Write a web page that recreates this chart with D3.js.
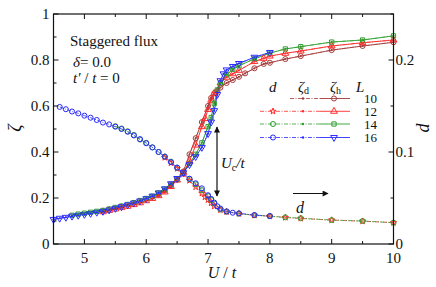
<!DOCTYPE html>
<html><head><meta charset="utf-8">
<script src="https://cdn.jsdelivr.net/npm/d3@7"></script>
<style>body{margin:0;background:#fff}svg{display:block}</style>
</head><body><svg id="c" width="436" height="287"></svg>
<script>
// ---- data ----
const xTicks = [5,6,7,8,9,10];
const yLeftTicks = [0,0.2,0.4,0.6,0.8,1];
const yLeftLabels = ["0","0.2","0.4","0.6","0.8","1"];
const yRightTicks = [0,0.1,0.2];
const yRightLabels = ["0","0.1","0.2"];
const sizesL = [10,12,14,16];

// zeta_h (left axis)
const uH16 = [4.5,4.6,4.7,4.8,4.9,5.0,5.1,5.2,5.3,5.4,5.5,5.6,5.7,5.8,5.9,6.0,6.1,6.2,6.3,6.4,6.5,6.6,6.7,6.8,6.9,7.0,7.05,7.1,7.15,7.2,7.25,7.3,7.4,7.5,7.75,8.0];
const zH16 = [0.107,0.112,0.116,0.121,0.125,0.129,0.133,0.138,0.142,0.148,0.155,0.162,0.170,0.178,0.187,0.197,0.208,0.222,0.240,0.262,0.285,0.31,0.345,0.38,0.42,0.48,0.53,0.58,0.65,0.71,0.74,0.757,0.772,0.785,0.812,0.833];
const uH14 = [4.8,4.9,5.0,5.1,5.2,5.3,5.4,5.5,5.6,5.7,5.8,5.9,6.0,6.1,6.2,6.3,6.4,6.5,6.6,6.7,6.8,6.9,7.0,7.05,7.1,7.15,7.2,7.3,7.4,7.5,7.75,8.0,8.25,8.5,9.0,9.5,10];
const zH14 = [0.125,0.130,0.134,0.138,0.142,0.146,0.152,0.159,0.165,0.172,0.180,0.189,0.198,0.208,0.222,0.238,0.26,0.283,0.31,0.35,0.39,0.44,0.51,0.55,0.61,0.67,0.70,0.735,0.76,0.775,0.805,0.83,0.848,0.858,0.878,0.887,0.905];
const uH12 = [5.3,5.4,5.5,5.6,5.7,5.8,5.9,6.0,6.1,6.2,6.3,6.4,6.5,6.6,6.7,6.8,6.9,6.95,7.0,7.05,7.1,7.2,7.3,7.4,7.5,7.75,7.9,8.0,8.25,8.5,9.0,9.5,10];
const zH12 = [0.14,0.146,0.152,0.158,0.164,0.171,0.179,0.188,0.198,0.21,0.226,0.25,0.278,0.31,0.36,0.43,0.51,0.545,0.585,0.625,0.655,0.70,0.725,0.74,0.755,0.793,0.807,0.817,0.829,0.839,0.861,0.875,0.887];
const uH10 = [6.2,6.3,6.4,6.5,6.6,6.7,6.8,6.9,7.0,7.05,7.1,7.15,7.2,7.3,7.4,7.5,7.6,7.75,7.9,8.0,8.25,8.5,9.0,9.5,10];
const zH10 = [0.215,0.232,0.255,0.28,0.315,0.39,0.46,0.53,0.60,0.635,0.655,0.665,0.68,0.70,0.713,0.727,0.742,0.764,0.783,0.788,0.804,0.817,0.843,0.861,0.877];

// zeta_d (left axis) – lies on top of zeta_h in the figure
const zD16 = zH16, zD14 = zH14, zD12 = zH12, zD10 = zH10;

// d (right axis)
const uD16 = [4.6,4.7,4.8,4.9,5.0,5.1,5.2,5.3,5.4,5.5,5.6,5.7,5.8,5.9,6.0,6.1,6.2,6.3,6.4,6.5,6.6,6.7,6.8,6.9,7.0,7.05,7.1,7.15,7.2,7.3,7.4,7.5,7.75,8.0];
const dD16 = [0.149,0.1465,0.144,0.142,0.1395,0.1373,0.1348,0.132,0.130,0.1275,0.125,0.122,0.118,0.114,0.1095,0.105,0.100,0.095,0.089,0.083,0.077,0.071,0.066,0.0605,0.053,0.049,0.045,0.041,0.0385,0.0355,0.034,0.0333,0.0315,0.0304];
const uD14 = [5.5,5.6,5.7,5.8,5.9,6.0,6.1,6.2,6.3,6.4,6.5,6.6,6.7,6.8,6.9,7.0,7.05,7.1,7.2,7.3,7.5,7.75,8.0,8.25,8.5,9.0,9.5,10];
const dD14 = [0.128,0.1255,0.1225,0.1185,0.1135,0.110,0.105,0.100,0.095,0.0895,0.083,0.077,0.0705,0.065,0.0585,0.052,0.048,0.044,0.0375,0.035,0.033,0.0313,0.0303,0.029,0.028,0.026,0.025,0.0232];
const uD12 = [6.3,6.4,6.5,6.6,6.7,6.8,6.9,6.95,7.0,7.05,7.1,7.2,7.3,7.5,7.75,8.0,8.25,8.5,9.0,9.5,10];
const dD12 = [0.094,0.088,0.082,0.076,0.069,0.062,0.055,0.051,0.048,0.0445,0.041,0.037,0.035,0.033,0.0312,0.0302,0.0288,0.0278,0.026,0.0248,0.0232];

// ---- drawing ----
const colors = {10:"#a33a3a",12:"#ff2a2a",14:"#2e9e2e",16:"#2a2aff"};
const FONT = '"Liberation Serif"';
const svg = d3.select("#c");
const L = 53.5, R = 393.5, T = 14, B = 244;
const x = d3.scaleLinear().domain([4.5,10]).range([L,R]);
const yl = d3.scaleLinear().domain([0,1]).range([B,T]);
const yr = d3.scaleLinear().domain([0,0.25]).range([B,T]);

const zip = (u,v)=>u.map((a,i)=>[a,v[i]]);
const hSeries = [
  {L:10,pts:zip(uH10,zH10),sym:"circle"},
  {L:12,pts:zip(uH12,zH12),sym:"tri"},
  {L:14,pts:zip(uH14,zH14),sym:"square"},
  {L:16,pts:zip(uH16,zH16),sym:"dtri"}];
const dzSeries = [
  {L:10,pts:zip(uH10,zD10)},{L:12,pts:zip(uH12,zD12)},{L:14,pts:zip(uH14,zD14)},{L:16,pts:zip(uH16,zD16)}];
const dSeries = [
  {L:12,pts:zip(uD12,dD12),sym:"star"},
  {L:14,pts:zip(uD14,dD14),sym:"circle"},
  {L:16,pts:zip(uD16,dD16),sym:"circle"}];

function symPath(s){
  if(s==="circle") return d3.symbol(d3.symbolCircle,20)();
  if(s==="tri"||s==="dtri") return d3.symbol(d3.symbolTriangle,20)();
  if(s==="square") return d3.symbol(d3.symbolSquare,18)();
  if(s==="star") return d3.symbol(d3.symbolStar,12)();
}
function drawMarker(g,s,cx,cy,col){
  g.append("path").attr("d",symPath(s))
    .attr("transform",`translate(${cx},${cy})${s==="dtri"?" rotate(180)":""}`)
    .attr("fill","none")
    .attr("stroke",col).attr("stroke-width",1);
}
function txt(g,xx,yy,size,str,opts={}){
  const t = g.append("text").attr("x",xx).attr("y",yy)
    .style("font-family",FONT).style("font-size",size+"px").style("fill","#111");
  if(opts.anchor) t.attr("text-anchor",opts.anchor);
  if(opts.italic) t.style("font-style","italic");
  if(opts.transform) t.attr("transform",opts.transform);
  if(str!==null) t.text(str);
  return t;
}
function span(t,str,italic,size,dy){
  const s = t.append("tspan").style("font-family",FONT).text(str);
  if(italic) s.style("font-style","italic");
  if(size) s.style("font-size",size+"px");
  if(dy) s.attr("dy",dy);
  return s;
}
const dashDot = "4,1.5,1,1.5";
const gData = svg.append("g");
dSeries.forEach(s=>{
  gData.append("path").datum(s.pts)
    .attr("d",d3.line().x(p=>x(p[0])).y(p=>yr(p[1])))
    .attr("fill","none").attr("stroke",colors[s.L]).attr("stroke-width",0.8).attr("stroke-dasharray",dashDot);
});
dzSeries.forEach(s=>{
  gData.append("path").datum(s.pts)
    .attr("d",d3.line().x(p=>x(p[0])).y(p=>yl(p[1])))
    .attr("fill","none").attr("stroke",colors[s.L]).attr("stroke-width",0.7).attr("stroke-dasharray",dashDot);
});
hSeries.forEach(s=>{
  gData.append("path").datum(s.pts)
    .attr("d",d3.line().x(p=>x(p[0])).y(p=>yl(p[1])))
    .attr("fill","none").attr("stroke",colors[s.L]).attr("stroke-width",0.9);
});
dSeries.forEach(s=>s.pts.forEach(p=>drawMarker(gData,s.sym,x(p[0]),yr(p[1]),colors[s.L])));
hSeries.forEach(s=>s.pts.forEach(p=>drawMarker(gData,s.sym,x(p[0]),yl(p[1]),colors[s.L])));
dzSeries.forEach(s=>s.pts.forEach(p=>gData.append("circle").attr("cx",x(p[0])).attr("cy",yl(p[1])).attr("r",1.1).attr("fill",colors[s.L])));

// ---- axes ----
const ax = svg.append("g").attr("stroke","#111").attr("fill","none");
ax.append("rect").attr("x",L).attr("y",T).attr("width",R-L).attr("height",B-T).attr("stroke-width",1.2);
d3.range(4.5,10.01,0.5).forEach(v=>{
  const major = xTicks.includes(v); const len = major?5:3;
  ax.append("line").attr("x1",x(v)).attr("x2",x(v)).attr("y1",B).attr("y2",B-len);
  ax.append("line").attr("x1",x(v)).attr("x2",x(v)).attr("y1",T).attr("y2",T+len);
});
d3.range(0,1.001,0.1).forEach(v=>{
  const major = Math.abs(v*5-Math.round(v*5))<1e-6; const len = major?5:3;
  ax.append("line").attr("x1",L).attr("x2",L+len).attr("y1",yl(v)).attr("y2",yl(v));
});
d3.range(0,0.2501,0.05).forEach(v=>{
  const major = Math.abs(v*10-Math.round(v*10))<1e-6; const len = major?5:3;
  ax.append("line").attr("x1",R).attr("x2",R-len).attr("y1",yr(v)).attr("y2",yr(v));
});
const fs = 15;
xTicks.forEach(v=>txt(svg,x(v),B+19,fs,String(v),{anchor:"middle"}));
yLeftTicks.forEach((v,i)=>txt(svg,L-4,yl(v)+5,fs,yLeftLabels[i],{anchor:"end"}));
yRightTicks.forEach((v,i)=>txt(svg,R+2,yr(v)+5,fs,yRightLabels[i],{anchor:"start"}));

const xt = txt(svg,222,278,16,null,{anchor:"middle"});
span(xt,"U",true); span(xt," / "); span(xt,"t",true);
txt(svg,0,0,18,"ζ",{anchor:"middle",italic:true,transform:"translate(21,128) rotate(-90)"});
txt(svg,0,0,18,"d",{anchor:"middle",italic:true,transform:"translate(429,128) rotate(-90)"});

txt(svg,70,46,15,"Staggered flux");
const t1 = txt(svg,73,67,15,null);
span(t1,"δ",true); span(t1,"= 0.0");
const t2 = txt(svg,73,83,15,null);
span(t2,"t′",true); span(t2," / "); span(t2,"t",true); span(t2," = 0");

const defs = svg.append("defs");
defs.append("marker").attr("id","ah").attr("viewBox","0 0 10 10").attr("refX",9).attr("refY",5)
  .attr("markerWidth",7).attr("markerHeight",6).attr("markerUnits","userSpaceOnUse").attr("orient","auto-start-reverse")
  .append("path").attr("d","M0,0 L10,5 L0,10 Z").attr("fill","#111");
svg.append("line").attr("x1",217).attr("x2",217).attr("y1",127).attr("y2",196)
  .attr("stroke","#111").attr("stroke-width",1.2).attr("marker-start","url(#ah)").attr("marker-end","url(#ah)");
const uc = txt(svg,221,168,15,null);
span(uc,"U",true); span(uc,"c",false,10,3); span(uc,"/t",true,null,-3);
svg.append("line").attr("x1",293).attr("x2",328).attr("y1",193.5).attr("y2",193.5)
  .attr("stroke","#111").attr("stroke-width",1.2).attr("marker-end","url(#ah)");
txt(svg,296,213,16,"d",{italic:true});

const lg = svg.append("g");
const hy = 92;
txt(lg,269,hy,15,"d",{italic:true});
const hz1 = txt(lg,298,hy,15,null); span(hz1,"ζ",true); span(hz1,"d",false,10,2);
const hz2 = txt(lg,330,hy,15,null); span(hz2,"ζ",true); span(hz2,"h",false,10,2);
txt(lg,356,hy,15,"L",{italic:true});
const rowY = [98.5,111.3,124,137.5];
const dSym = {12:"star",14:"circle",16:"circle"};
const hSym = {10:"circle",12:"tri",14:"square",16:"dtri"};
sizesL.forEach((Lv,i)=>{
  const yy = rowY[i], c = colors[Lv];
  const x0 = Lv===10?290:260;
  lg.append("line").attr("x1",x0).attr("x2",320).attr("y1",yy).attr("y2",yy).attr("stroke",c).attr("stroke-width",0.8).attr("stroke-dasharray",dashDot);
  lg.append("line").attr("x1",320).attr("x2",350).attr("y1",yy).attr("y2",yy).attr("stroke",c).attr("stroke-width",0.9);
  if(dSym[Lv]) drawMarker(lg,dSym[Lv],273,yy,c);
  lg.append("circle").attr("cx",303).attr("cy",yy).attr("r",1.2).attr("fill",c);
  drawMarker(lg,hSym[Lv],334,yy,c);
  txt(lg,364,yy+4.5,13,String(Lv));
});
</script></body></html>
